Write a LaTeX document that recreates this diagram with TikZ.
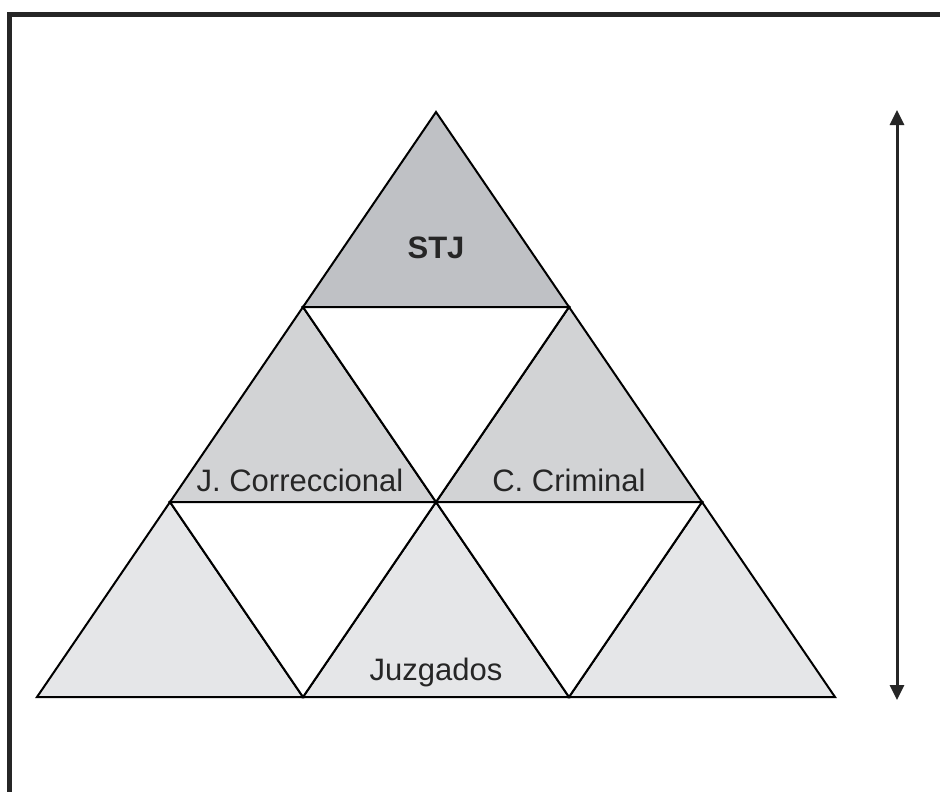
\documentclass[tikz,border=0pt]{standalone}
\usepackage{fontspec}
\setmainfont{Liberation Sans}
\usetikzlibrary{arrows.meta, calc}
\definecolor{top-gray}{RGB}{191,193,197}
\definecolor{mid-gray}{RGB}{210,211,213}
\definecolor{low-gray}{RGB}{229,230,232}
\tikzset{
    my-tri/.style={
        draw, line width=2pt, line join=miter
    },
    my-label/.style={
        font=\fontsize{31}{36}\selectfont, inner sep=0pt, text=black!85
    },
}

\begin{document}
\begin{tikzpicture}[x=1pt, y=-1pt]

        % CANVAS AND FRAME ----------------------------------------------------------------------------
        \useasboundingbox (0, 0) rectangle (940, 792);
        \clip (0, 0) rectangle (940, 792);
        \fill[white] (0, 0) rectangle (940, 792);
        \draw[line width=5pt, black!85] (9.5, 14.5) rectangle (980, 830);

        % PYRAMID CORNERS
        \coordinate (APEX) at (436, 112);
        \coordinate (A1)   at ($(APEX) + (-133, 195)$);
        \coordinate (A2)   at ($(APEX) + (133, 195)$);
        \coordinate (B1)   at ($(A1) + (-133, 195)$);
        \coordinate (B2)   at ($(A1) + (133, 195)$);
        \coordinate (B3)   at ($(A2) + (133, 195)$);
        \coordinate (C1)   at ($(B1) + (-133, 195)$);
        \coordinate (C2)   at ($(B1) + (133, 195)$);
        \coordinate (C3)   at ($(B2) + (133, 195)$);
        \coordinate (C4)   at ($(B3) + (133, 195)$);

        % TOP LEVEL - STJ
        \draw[my-tri, fill=top-gray] (APEX) -- (A1) -- (A2) -- cycle;
        \node[my-label, font=\fontsize{31}{36}\selectfont\bfseries] (STJ) at ($(APEX) + (0, 136)$) {STJ};

        % SECOND LEVEL - CAMARAS
        \draw[my-tri, fill=mid-gray] (A1) -- (B1) -- (B2) -- cycle;
        \draw[my-tri, fill=mid-gray] (A2) -- (B2) -- (B3) -- cycle;
        \draw[my-tri, fill=white]    (A1) -- (A2) -- (B2) -- cycle;
        \node[my-label] (CORREC) at ($(B2) + (-136, -22)$) {J. Correccional};
        \node[my-label] (CRIM)   at ($(B2) + (133, -22)$)  {C. Criminal};

        % THIRD LEVEL - JUZGADOS
        \draw[my-tri, fill=low-gray] (B1) -- (C1) -- (C2) -- cycle;
        \draw[my-tri, fill=low-gray] (B2) -- (C2) -- (C3) -- cycle;
        \draw[my-tri, fill=low-gray] (B3) -- (C3) -- (C4) -- cycle;
        \draw[my-tri, fill=white]    (B1) -- (B2) -- (C2) -- cycle;
        \draw[my-tri, fill=white]    (B2) -- (B3) -- (C3) -- cycle;
        \node[my-label] (JUZG) at ($(C2) + (133, -25)$) {Juzgados};

        % HEIGHT ARROW
        \coordinate (ARROWTOP) at (897, 110);
        \coordinate (ARROWBOT) at (897, 700);
        \draw[line width=3pt, black!85, {Triangle[width=14pt, length=15pt]}-{Triangle[width=14pt, length=15pt]}] (ARROWTOP) -- (ARROWBOT);

    \end{tikzpicture}
\end{document}
